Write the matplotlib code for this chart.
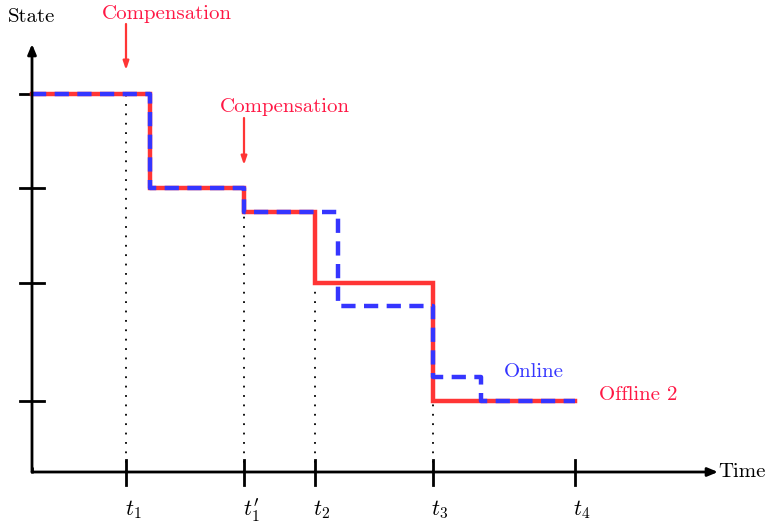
import matplotlib.pyplot as plt

plt.rcParams["mathtext.fontset"] = "cm"
plt.rcParams["font.family"] = ["cmr10", "DejaVu Serif"]
plt.rcParams["axes.unicode_minus"] = False

# step profiles (time, state) in drawing units, origin at the axes corner
offline_t = [0, 118, 212, 283, 401, 543]
offline_s = [378, 284, 260, 189, 71, 71]
online_t = [0, 118, 212, 306, 401, 449, 543]
online_s = [378, 284, 260, 166, 95, 71, 71]

tick_times = [94, 212, 283, 401, 543]
tick_labels = [r"$t_1$", r"$t_1'$", r"$t_2$", r"$t_3$", r"$t_4$"]
guide_top = [378, 260, 189, 71]
state_levels = [378, 284, 189, 71]

RED = "#ff3535"
BLUE = "#3535ff"
TEXT_RED = "#ff1744"

fig = plt.figure(figsize=(7.67, 5.26), dpi=100)
ax = fig.add_axes([0, 0, 1, 1])
ax.set_xlim(-32, 735)
ax.set_ylim(-54, 472)
ax.axis("off")

# axes with arrows
ax.annotate("", xy=(0, 428), xytext=(0, 0),
            arrowprops=dict(arrowstyle="-|>,head_length=0.6,head_width=0.25",
                            color="black", lw=2, shrinkA=0, shrinkB=0))
ax.annotate("", xy=(686, 0), xytext=(0, 0),
            arrowprops=dict(arrowstyle="-|>,head_length=0.6,head_width=0.25",
                            color="black", lw=2, shrinkA=0, shrinkB=0))
ax.plot([0, 0], [-1, 5], color="black", lw=2, solid_capstyle="butt")

for s in state_levels:
    ax.plot([-12, 12], [s, s], color="black", lw=2)
for t, lab in zip(tick_times, tick_labels):
    ax.plot([t, t], [-13, 12], color="black", lw=2)
    ax.text(t + 7, -38, lab, ha="center", va="center", fontsize=16)
for t, top in zip(tick_times[:4], guide_top):
    ax.plot([t, t], [0, top], color="black", lw=1.3, linestyle=(0, (1, 4.2)))

# step lines
ax.plot(offline_t, offline_s, drawstyle="steps-post", color=RED, lw=3.2,
        solid_joinstyle="miter")
ax.plot(online_t, online_s, drawstyle="steps-post", color=BLUE, lw=3.2,
        linestyle=(0, (3.2, 1.9)), dash_capstyle="butt")

ax.text(0, 455, "State", ha="center", va="center", fontsize=15)
ax.text(686, 0, "Time", ha="left", va="center", fontsize=15)

ax.text(135, 458, "Compensation", ha="center", va="center", fontsize=15,
        color=TEXT_RED)
ax.annotate("", xy=(94, 402), xytext=(94, 448),
            arrowprops=dict(arrowstyle="-|>,head_length=0.5,head_width=0.17",
                            color=RED, lw=1.6, shrinkA=0, shrinkB=0))
ax.text(253, 365, "Compensation", ha="center", va="center", fontsize=15,
        color=TEXT_RED)
ax.annotate("", xy=(212, 307), xytext=(212, 354),
            arrowprops=dict(arrowstyle="-|>,head_length=0.5,head_width=0.17",
                            color=RED, lw=1.6, shrinkA=0, shrinkB=0))

ax.text(502, 100, "Online", ha="center", va="center", fontsize=15, color=BLUE)
ax.text(567, 77, "Offline 2", ha="left", va="center", fontsize=15,
        color=TEXT_RED)

fig.savefig("out.png", dpi=100)
